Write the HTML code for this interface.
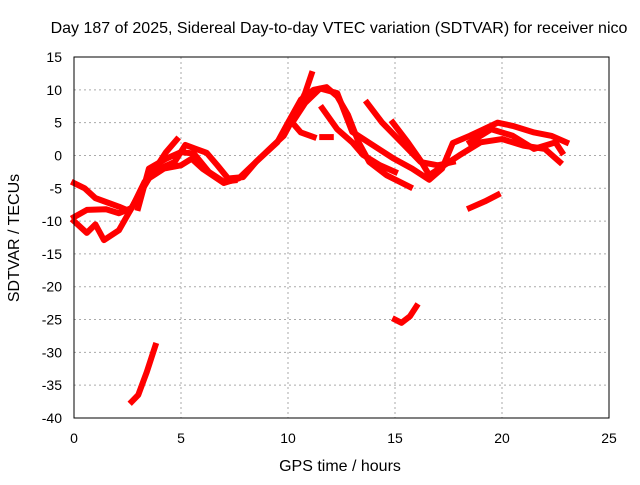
<!DOCTYPE html>
<html><head><meta charset="utf-8"><style>
body{margin:0;background:#fff}
svg{font-family:"Liberation Sans",sans-serif;font-size:14px}
.big{font-size:16px}
</style></head><body>
<svg width="640" height="480">
<rect width="640" height="480" fill="#fff"/>
<text class="big" x="339" y="33" text-anchor="middle">Day 187 of 2025, Sidereal Day-to-day VTEC variation (SDTVAR) for receiver nico</text>
<text class="big" x="340" y="471" text-anchor="middle">GPS time / hours</text>
<text class="big" transform="translate(19,238) rotate(-90)" text-anchor="middle">SDTVAR / TECUs</text>
<g id="grid"></g><g id="ticks"></g><g id="series"></g>
<rect x="74" y="57" width="535" height="361" fill="none" stroke="#000"/>
</svg>
<script>
const xTicks=[0,5,10,15,20,25];
const yTicks=[15,10,5,0,-5,-10,-15,-20,-25,-30,-35,-40];
const track1=[[0,-4.2],[0.5,-5],[1,-6.5],[2.1,-7.8],[2.6,-8.5],[3.2,-5],[3.7,-2.5],[4.3,0.5],[4.8,2.4]];
const track2=[[0,-9.4],[0.6,-8.3],[1.5,-8.2],[2.1,-8.8],[2.7,-8],[3.3,-4],[4,-2],[4.7,-1],[5.2,1.6],[5.7,1],[6.2,0.4],[6.7,-1.5],[7.2,-3.5],[7.9,-3.3],[8.5,-1],[9.3,1.5],[9.8,3],[10.3,6],[10.8,9.5],[11.1,12.4]];
const track3=[[0,-10],[0.6,-11.8],[1,-10.5],[1.4,-12.9],[2.1,-11.4],[2.9,-6.8],[3.5,-3.5],[4.2,-2],[5,-1.5],[5.5,-0.5],[6,-2],[7,-4.2],[7.7,-3.5],[8.5,-1],[9.5,2],[10,5],[10.6,8.5],[11.2,10],[11.8,10.4],[12.3,9],[12.8,6.2],[13.3,2],[13.8,-1],[14.6,-3],[15.7,-4.8]];
const track4=[[3,-8],[3.5,-2],[4.3,-0.5],[5,0.5],[5.6,0.3],[6.3,-2.5],[7,-4],[7.5,-3.8]];
const track5=[[10.2,5],[10.8,8],[11.5,10.2],[12.3,9.5],[13,3.6],[14,1.5],[14.9,-0.4],[15.8,-2],[16.6,-3.7],[17.2,-2],[17.7,1.9],[18.5,3],[19.8,5],[20.5,4.5],[21.5,3.5],[22.3,3],[23,2]];
const track6=[[11.6,7.2],[12.3,4],[13,2],[13.5,0.1],[14.3,-1.5],[15,-2.5]];
const track7=[[13.7,8],[14.4,5],[15.3,2],[16.2,-1],[17,-1.5],[17.7,-1]];
const track8=[[14.9,5],[15.6,2],[16.2,-0.8],[16.6,-3],[17.3,-1.5],[18,0],[19,2],[20,2.5],[21,1.5],[22,1],[22.7,-1]];
const track9=[[10.2,5],[10.6,3.5],[11.2,2.8]];
const track10=[[11.6,2.8],[12,2.8]];
const track11=[[18.5,-8],[19.2,-7],[19.8,-6]];
const track12=[[15,-25],[15.3,-25.5],[15.7,-24.5],[16,-23]];
const track13=[[2.7,-37.5],[3,-36.5],[3.4,-33],[3.8,-29]];
const track14=[[18.5,2],[19.5,4],[20.5,3],[21.5,1],[22.5,2],[22.8,0.5]];
const tracks=[track1,track2,track3,track4,track5,track6,track7,track8,track9,track10,track11,track12,track13,track14];
const NS="http://www.w3.org/2000/svg";
const X=v=>74+v*535/25, Y=v=>57+(15-v)*361/55;
function mk(t,a,p){const e=document.createElementNS(NS,t);for(const k in a)e.setAttribute(k,a[k]);p.appendChild(e);return e;}
const grid=document.getElementById('grid'),ticks=document.getElementById('ticks'),ser=document.getElementById('series');
xTicks.forEach(v=>{
 const l=mk('line',{x1:X(v),x2:X(v),y1:57,y2:418,stroke:'#aaa','stroke-dasharray':'2,3'},grid);
 
 
 const t=mk('text',{x:X(v),y:443,'text-anchor':'middle'},ticks);t.textContent=v;
 
 
});
yTicks.forEach(v=>{
 const l=mk('line',{x1:74,x2:609,y1:Y(v),y2:Y(v),stroke:'#aaa','stroke-dasharray':'2,3'},grid);
 
 
 const t=mk('text',{x:62,y:Y(v)+5,'text-anchor':'end'},ticks);t.textContent=v;
 
 
});
tracks.forEach((tr,i)=>{
 const p=mk('polyline',{points:tr.map(d=>X(d[0])+','+Y(d[1])).join(' '),fill:'none',stroke:'#f00','stroke-width':6,'stroke-linejoin':'round','stroke-linecap':'square'},ser);
 
 
});
</script>
</body></html>
